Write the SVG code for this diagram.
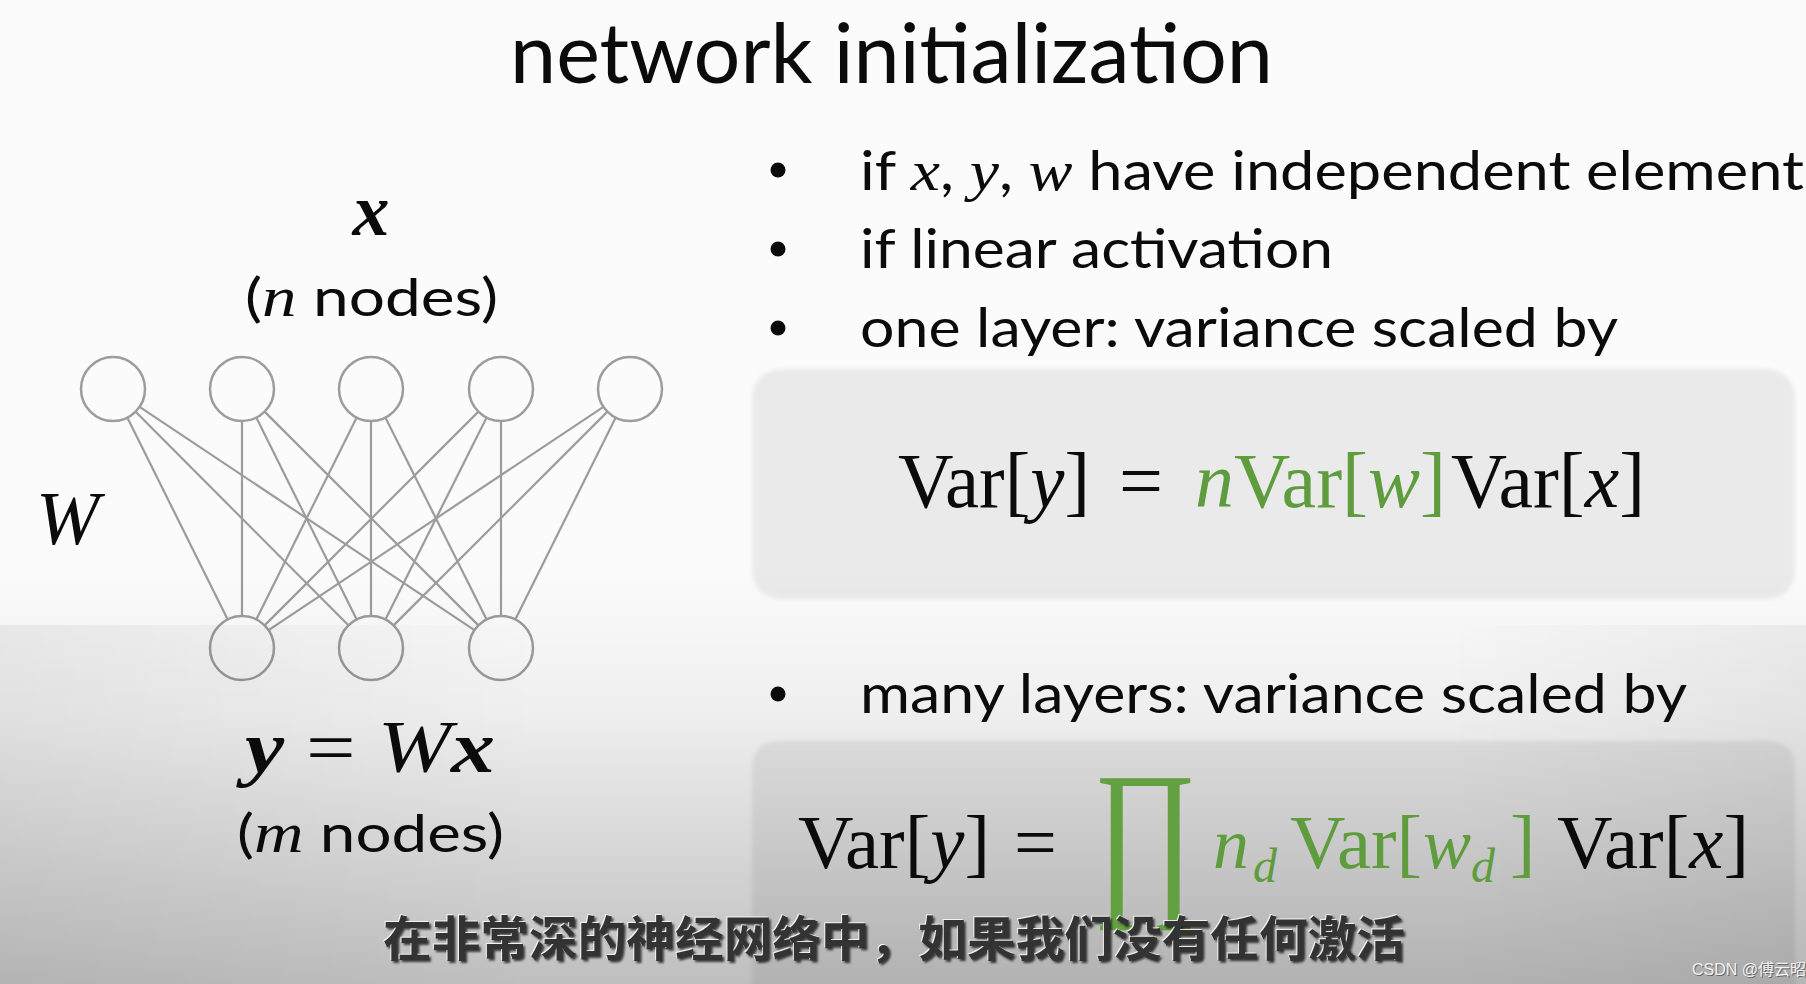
<svg xmlns="http://www.w3.org/2000/svg" width="1806" height="984" viewBox="0 0 1806 984">
<defs>
<linearGradient id="shade" x1="0" y1="0" x2="0" y2="1">
<stop offset="0" stop-color="#000" stop-opacity="0"/>
<stop offset="0.35" stop-color="#000" stop-opacity="0.05"/>
<stop offset="1" stop-color="#000" stop-opacity="0.24"/>
</linearGradient>
<linearGradient id="sideshade" x1="0" y1="0" x2="1" y2="0">
<stop offset="0" stop-color="#000" stop-opacity="0.06"/>
<stop offset="0.3" stop-color="#000" stop-opacity="0"/>
<stop offset="0.8" stop-color="#000" stop-opacity="0"/>
<stop offset="1" stop-color="#000" stop-opacity="0.05"/>
</linearGradient>
<filter id="soft" x="-5%" y="-5%" width="110%" height="110%"><feGaussianBlur stdDeviation="2"/></filter>
<filter id="blur1" x="-5%" y="-20%" width="110%" height="140%"><feGaussianBlur stdDeviation="1.2"/></filter>
</defs>
<style>
.sans{font-family:Lato,"Open Sans","Liberation Sans",sans-serif;fill:#0b0b0b}
.serif{font-family:"Liberation Serif","DejaVu Serif",serif;fill:#0b0b0b}
.it{font-style:italic}
.bi{font-style:italic;font-weight:bold}
.green{fill:#5e9c3e}
.edge{stroke:#9c9c9c;stroke-width:2.2;fill:none}
.node{stroke:#9c9c9c;stroke-width:2.5;fill:none}
.box{fill:#eaeaea;filter:url(#soft)}
.cjk{font-family:"Noto Sans CJK SC",sans-serif;font-weight:bold;font-size:48px}
</style>

<rect x="0" y="0" width="1806" height="984" fill="#fbfbfb"/>

<g id="box1"><rect class="box" x="752" y="369" width="1043" height="230" rx="28"/></g>
<g id="box2"><path class="box" d="M780 741 H1767 Q1795 741 1795 769 V990 H752 V769 Q752 741 780 741 Z"/></g>

<g id="connectors">
<line class="edge" x1="127.3" y1="417.6" x2="227.7" y2="619.4"/>
<line class="edge" x1="135.6" y1="411.7" x2="348.4" y2="625.3"/>
<line class="edge" x1="139.6" y1="406.8" x2="474.4" y2="630.2"/>
<line class="edge" x1="242" y1="421" x2="242" y2="616"/>
<line class="edge" x1="256.3" y1="417.6" x2="356.7" y2="619.4"/>
<line class="edge" x1="264.6" y1="411.6" x2="478.4" y2="625.4"/>
<line class="edge" x1="356.7" y1="417.6" x2="256.3" y2="619.4"/>
<line class="edge" x1="371" y1="421" x2="371" y2="616"/>
<line class="edge" x1="385.4" y1="417.6" x2="486.6" y2="619.4"/>
<line class="edge" x1="478.4" y1="411.6" x2="264.6" y2="625.4"/>
<line class="edge" x1="486.6" y1="417.6" x2="385.4" y2="619.4"/>
<line class="edge" x1="501" y1="421" x2="501" y2="616"/>
<line class="edge" x1="603.4" y1="406.8" x2="268.6" y2="630.2"/>
<line class="edge" x1="607.4" y1="411.6" x2="393.6" y2="625.4"/>
<line class="edge" x1="615.7" y1="417.6" x2="515.3" y2="619.4"/>
</g>

<g id="x1"><circle class="node" cx="113" cy="389" r="32"/></g>
<g id="x2"><circle class="node" cx="242" cy="389" r="32"/></g>
<g id="x3"><circle class="node" cx="371" cy="389" r="32"/></g>
<g id="x4"><circle class="node" cx="501" cy="389" r="32"/></g>
<g id="x5"><circle class="node" cx="630" cy="389" r="32"/></g>
<g id="y1"><circle class="node" cx="242" cy="648" r="32"/></g>
<g id="y2"><circle class="node" cx="371" cy="648" r="32"/></g>
<g id="y3"><circle class="node" cx="501" cy="648" r="32"/></g>

<rect x="0" y="570" width="1806" height="414" fill="url(#shade)"/>
<rect x="0" y="625" width="1806" height="359" fill="url(#sideshade)"/>

<g id="title"><text class="sans" x="510" y="83" font-size="84" textLength="763" lengthAdjust="spacingAndGlyphs">network initialization</text></g>

<g id="labels">
<text class="serif bi" x="371" y="235" font-size="74" text-anchor="middle">x</text>
<text class="sans" x="245" y="316" font-size="52" textLength="253" lengthAdjust="spacingAndGlyphs">(<tspan class="serif it" font-size="56">n</tspan> nodes)</text>
<text class="serif it" x="36" y="544" font-size="76">W</text>
<text class="serif" x="245" y="772" font-size="74" textLength="250" lengthAdjust="spacingAndGlyphs"><tspan class="bi">y</tspan> = <tspan class="it">W</tspan><tspan class="bi">x</tspan></text>
<text class="sans" x="237" y="852" font-size="52" textLength="267" lengthAdjust="spacingAndGlyphs">(<tspan class="serif it" font-size="56">m</tspan> nodes)</text>
</g>

<g id="bullets">
<circle cx="778" cy="170" r="7.5" fill="#0b0b0b"/>
<circle cx="778" cy="249" r="7.5" fill="#0b0b0b"/>
<circle cx="778" cy="328" r="7.5" fill="#0b0b0b"/>
<circle cx="778" cy="694" r="7.5" fill="#0b0b0b"/>
<text class="sans" x="860" y="190" font-size="54" textLength="944" lengthAdjust="spacingAndGlyphs">if <tspan class="serif it" font-size="58">x</tspan>, <tspan class="serif it" font-size="58">y</tspan>, <tspan class="serif it" font-size="58">w</tspan> have independent element</text>
<text class="sans" x="860" y="268" font-size="54" textLength="473" lengthAdjust="spacingAndGlyphs">if linear activation</text>
<text class="sans" x="860" y="347" font-size="54" textLength="758" lengthAdjust="spacingAndGlyphs">one layer: variance scaled by</text>
<text class="sans" x="860" y="713" font-size="54" textLength="827" lengthAdjust="spacingAndGlyphs">many layers: variance scaled by</text>
</g>

<g id="formula1">
<text class="serif" x="898" y="507" font-size="78" textLength="192" lengthAdjust="spacingAndGlyphs">Var[<tspan class="it">y</tspan>]</text>
<text class="serif" x="1119" y="507" font-size="78">=</text>
<text class="serif green" x="1195" y="507" font-size="78" textLength="251" lengthAdjust="spacingAndGlyphs"><tspan class="it">n</tspan>Var[<tspan class="it">w</tspan>]</text>
<text class="serif" x="1451" y="507" font-size="78" textLength="194" lengthAdjust="spacingAndGlyphs">Var[<tspan class="it">x</tspan>]</text>
</g>

<g id="formula2">
<text class="serif" x="798" y="868" font-size="76" textLength="192" lengthAdjust="spacingAndGlyphs">Var[<tspan class="it">y</tspan>]</text>
<text class="serif" x="1014" y="868" font-size="76">=</text>
<text class="serif green" x="1093" y="893" font-size="175" textLength="104" lengthAdjust="spacingAndGlyphs" style="fill:#62a042">∏</text>
<text class="serif green it" x="1213" y="868" font-size="72">n</text>
<text class="serif green it" x="1253" y="882" font-size="48">d</text>
<text class="serif green" x="1290" y="868" font-size="76" textLength="132" lengthAdjust="spacingAndGlyphs">Var[</text>
<text class="serif green it" x="1423" y="868" font-size="72">w</text>
<text class="serif green it" x="1471" y="882" font-size="48">d</text>
<text class="serif green" x="1510" y="868" font-size="76">]</text>
<text class="serif" x="1557" y="868" font-size="76" textLength="192" lengthAdjust="spacingAndGlyphs">Var[<tspan class="it">x</tspan>]</text>
</g>

<g id="subtitle">
<text class="cjk" x="385" y="958" fill="#000" opacity="0.7" filter="url(#blur1)" textLength="1022" lengthAdjust="spacingAndGlyphs">在非常深的神经网络中，如果我们没有任何激活</text>
<text class="cjk" x="382" y="955" fill="#fff" opacity="0.8" textLength="1022" lengthAdjust="spacingAndGlyphs">在非常深的神经网络中，如果我们没有任何激活</text>
<text class="cjk" x="383" y="956" fill="#333" textLength="1022" lengthAdjust="spacingAndGlyphs">在非常深的神经网络中，如果我们没有任何激活</text>
</g>

<g id="watermark">
<text x="1693" y="976" font-family="'Liberation Sans','Noto Sans CJK SC',sans-serif" font-size="16" fill="#666">CSDN @傅云昭</text>
<text x="1692" y="975" font-family="'Liberation Sans','Noto Sans CJK SC',sans-serif" font-size="16" fill="#f2f2f2">CSDN @傅云昭</text>
</g>
</svg>
